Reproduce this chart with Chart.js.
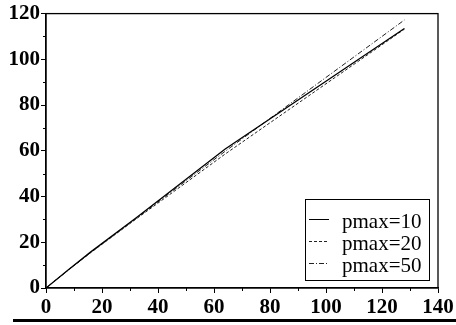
<!DOCTYPE html>
<html>
<head>
<meta charset="utf-8">
<script src="https://cdn.jsdelivr.net/npm/chart.js@4"></script>
<style>
  body { margin: 0; background: #fff; }
  #wrap { position: relative; width: 456px; height: 325px; }
  #bar { position: absolute; left: 13px; top: 319px; width: 443px; height: 3px; background: #000; }
</style>
</head>
<body>
<div id="wrap">
  <canvas id="plot" width="456" height="325"></canvas>
  <div id="bar"></div>
</div>
<script>
const xs = [0, 8, 16, 32, 64, 128];
const pmax10 = [0, 8, 15.8, 30.5, 60.8, 113.5];
const pmax20 = [0, 7.9, 15.5, 30, 58.6, 113.2];
const pmax50 = [0, 7.9, 15.6, 30.3, 59.8, 117.2];
const seriesLabels = ['pmax=10', 'pmax=20', 'pmax=50'];
const xTicks = [0, 20, 40, 60, 80, 100, 120, 140];
const yTicks = [0, 20, 40, 60, 80, 100, 120];

const pts = ys => xs.map((x, i) => ({ x: x, y: ys[i] }));
const tickFont = { family: 'Liberation Serif', size: 21, weight: 'bold' };

// box round the plot, short minor ticks, and the legend box
const frame = {
  id: 'frame',
  afterDraw(chart) {
    const c = chart.ctx, a = chart.chartArea;
    const sx = chart.scales.x, sy = chart.scales.y;
    c.save();
    c.strokeStyle = '#000';
    c.lineWidth = 1.3;
    c.strokeRect(a.left, a.top, a.right - a.left, a.bottom - a.top);
    c.lineWidth = 1;
    c.beginPath();
    for (let v = 10; v < 140; v += 20) {
      const px = Math.round(sx.getPixelForValue(v)) + 0.5;
      c.moveTo(px, a.bottom); c.lineTo(px, a.bottom + 3);
    }
    for (let v = 10; v < 120; v += 20) {
      const py = Math.round(sy.getPixelForValue(v)) + 0.5;
      c.moveTo(a.left, py); c.lineTo(a.left - 3, py);
    }
    c.stroke();

    // legend
    const bx = 305, by = 199, bw = 124, bh = 81;
    c.fillStyle = '#fff';
    c.fillRect(bx, by, bw, bh);
    c.lineWidth = 1;
    c.strokeRect(bx + 0.5, by + 0.5, bw, bh);
    c.font = '21px "Liberation Serif"';
    c.textBaseline = 'middle';
    chart.data.datasets.forEach((ds, i) => {
      const y = by + 23 + i * 22;
      c.strokeStyle = ds.borderColor;
      c.lineWidth = 1;
      c.setLineDash(ds.borderDash || []);
      c.beginPath();
      c.moveTo(309, y - 2.5); c.lineTo(329, y - 2.5);
      c.stroke();
      c.setLineDash([]);
      c.fillStyle = '#000';
      c.fillText(ds.label, 342, y);
    });
    c.restore();
  }
};

new Chart(document.getElementById('plot'), {
  type: 'line',
  data: {
    datasets: [
      { label: seriesLabels[0], data: pts(pmax10), borderColor: '#000', borderWidth: 1.3, pointRadius: 0 },
      { label: seriesLabels[1], data: pts(pmax20), borderColor: '#222', borderWidth: 1, borderDash: [3, 2], pointRadius: 0 },
      { label: seriesLabels[2], data: pts(pmax50), borderColor: '#222', borderWidth: 1, borderDash: [5, 2, 1, 2], pointRadius: 0 }
    ]
  },
  options: {
    responsive: false,
    animation: false,
    layout: { padding: { top: 12, right: 18, left: 0, bottom: 0 } },
    plugins: { legend: { display: false }, tooltip: { enabled: false } },
    scales: {
      x: {
        type: 'linear', min: 0, max: 140,
        afterBuildTicks: s => { s.ticks = xTicks.map(v => ({ value: v })); },
        afterFit: s => { s.height = 37; },
        ticks: { color: '#000', font: tickFont, padding: 2, maxRotation: 0 },
        grid: { drawOnChartArea: false, tickLength: 5, tickColor: '#000' },
        border: { color: '#000', width: 1.3 }
      },
      y: {
        type: 'linear', min: 0, max: 120,
        afterBuildTicks: s => { s.ticks = yTicks.map(v => ({ value: v })); },
        afterFit: s => { s.width = 46; },
        ticks: { color: '#000', font: tickFont, padding: 1 },
        grid: { drawOnChartArea: false, tickLength: 5, tickColor: '#000' },
        border: { color: '#000', width: 1.3 }
      }
    }
  },
  plugins: [frame]
});
</script>
</body>
</html>
